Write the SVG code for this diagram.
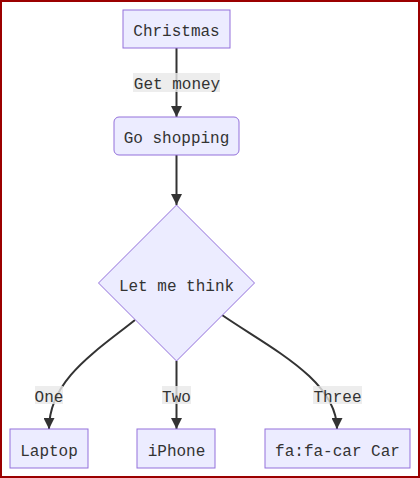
<svg xmlns="http://www.w3.org/2000/svg" width="420" height="478" viewBox="0 0 420 478">
<style>
.node{fill:#ECECFF;stroke:#9370DB;stroke-width:1}
text{font-family:"Liberation Mono","DejaVu Sans Mono",monospace;font-size:16px;fill:#333;text-anchor:middle;dominant-baseline:central}
.edge{fill:none;stroke:#333;stroke-width:2}
.lbg{fill:rgba(232,232,232,0.8)}
</style>
<defs>
<marker id="arr" viewBox="0 0 10 10" refX="10" refY="5" markerWidth="5.5" markerHeight="5.5" markerUnits="strokeWidth" orient="auto">
<path d="M0,0 L10,5 L0,10 z" fill="#333"/>
</marker>
</defs>
<rect x="1" y="1" width="418" height="476" fill="#fff" stroke="#9b0000" stroke-width="2"/>
<g id="connectors">
<path class="edge" d="M176.5,48 L176.5,117" marker-end="url(#arr)"/>
<path class="edge" d="M176.5,155 L176.5,205" marker-end="url(#arr)"/>
<path class="edge" d="M135,320 C95,352 49,380 49,429" marker-end="url(#arr)"/>
<path class="edge" d="M176.5,361 L176.5,429" marker-end="url(#arr)"/>
<path class="edge" d="M222,315 C270,348 337,380 337,429" marker-end="url(#arr)"/>
<g id="edge-labels">
<rect class="lbg" x="133" y="73" width="87" height="19"/>
<text x="177" y="85">Get money</text>
<rect class="lbg" x="35" y="386" width="28" height="18"/>
<text x="49" y="398">One</text>
<rect class="lbg" x="162" y="386" width="29" height="18"/>
<text x="176.5" y="398">Two</text>
<rect class="lbg" x="313" y="386" width="49" height="18"/>
<text x="337.5" y="398">Three</text>
</g>
</g>
<g id="christmas">
<rect class="node" x="123" y="10" width="107" height="38"/>
<text x="176.5" y="31.5">Christmas</text>
</g>
<g id="shopping">
<rect class="node" x="114" y="117" width="125" height="38" rx="5"/>
<text x="176.5" y="138.5">Go shopping</text>
</g>
<g id="think">
<polygon class="node" points="176.5,205 254.5,283 176.5,361 98.5,283"/>
<text x="176.5" y="286.5">Let me think</text>
</g>
<g id="laptop">
<rect class="node" x="10" y="429" width="78" height="39"/>
<text x="49" y="451.5">Laptop</text>
</g>
<g id="iphone">
<rect class="node" x="137" y="429" width="78" height="39"/>
<text x="176.5" y="451.5">iPhone</text>
</g>
<g id="car">
<rect class="node" x="265" y="429" width="145" height="39"/>
<text x="337.5" y="451.5">fa:fa-car Car</text>
</g>
</svg>
